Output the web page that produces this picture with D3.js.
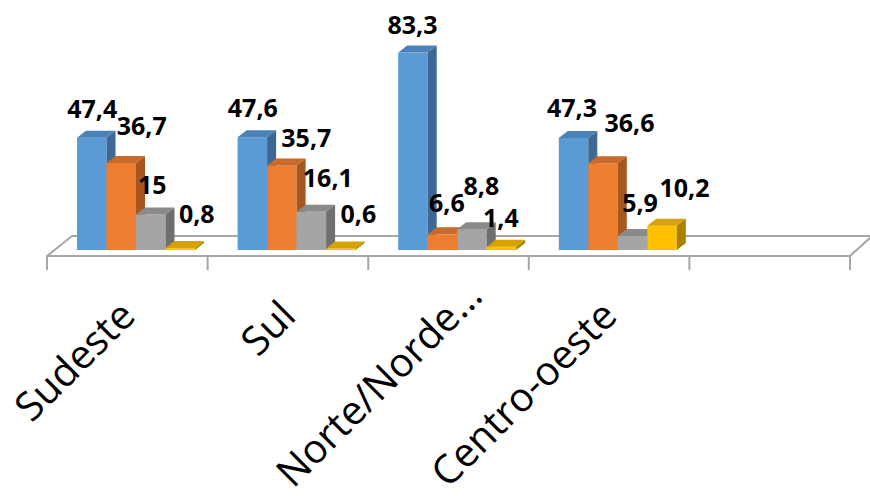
<!DOCTYPE html>
<html>
<head>
<meta charset="utf-8">
<script src="https://cdn.jsdelivr.net/npm/d3@7"></script>
<style>
html,body{margin:0;padding:0;background:#fff;}
svg{display:block;}
</style>
</head>
<body>
<svg id="chart" width="870" height="496"></svg>
<script>
// ---- data ----
const categories = ["Sudeste", "Sul", "Norte/Norde…", "Centro-oeste", ""];
const seriesNames = ["S1", "S2", "S3", "S4"];
const values = [
  [47.4, 36.7, 15, 0.8],
  [47.6, 35.7, 16.1, 0.6],
  [83.3, 6.6, 8.8, 1.4],
  [47.3, 36.6, 5.9, 10.2]
];
const valueLabels = [
  ["47,4", "36,7", "15", "0,8"],
  ["47,6", "35,7", "16,1", "0,6"],
  ["83,3", "6,6", "8,8", "1,4"],
  ["47,3", "36,6", "5,9", "10,2"]
];

// ---- layout / style ----
const faces = [
  {front:"#5B9BD5", top:"#4B82B9", side:"#3D6893"},
  {front:"#ED7D31", top:"#C9692A", side:"#A85620"},
  {front:"#A5A5A5", top:"#8A8A8A", side:"#6F6F6F"},
  {front:"#FFC000", top:"#D6A200", side:"#A98000"}
];
const depth = {dx: 9, dy: -7};
const floorDepth = {dx: 25, dy: -20};
const frontY = 256, barBase = 250;
// small label nudges [dx, dy] (Excel overlap avoidance)
const labelNudge = [
  [[-4,0],[16,-8],[-3,0],[12,-5]],
  [[-4,0],[20,2],[12,-5],[13,-6]],
  [[-5,1],[0,-2],[5,-14],[-5,0]],
  [[-6,-1],[22,-11],[3,-4],[18,-9]]
];
const catLabelNudge = [[0,0],[0,0],[26,-20],[0,0],[0,0]];

const svg = d3.select("#chart");

const x0 = d3.scaleBand().domain(d3.range(categories.length)).range([47, 850]).paddingInner(0).paddingOuter(0);
const x1 = d3.scaleBand().domain(d3.range(seriesNames.length)).range([30, 30 + 118]).padding(0);
const y = d3.scaleLinear().domain([0, 90]).range([barBase, barBase - 213.3]);

// floor
const fx0 = x0.range()[0], fx1 = x0.range()[1];
svg.append("polygon")
  .attr("points", [[fx0, frontY], [fx1, frontY], [fx1 + floorDepth.dx - 3, frontY + floorDepth.dy], [fx0 + floorDepth.dx, frontY + floorDepth.dy]].map(p => p.join(",")).join(" "))
  .attr("fill", "#fff").attr("stroke", "#A6A6A6").attr("stroke-width", 2).attr("stroke-linejoin", "round");

// ticks
const tickXs = d3.range(categories.length + 1).map(i => i < categories.length ? x0(i) : fx1);
svg.append("g").selectAll("line").data(tickXs).join("line")
  .attr("x1", d => d).attr("x2", d => d)
  .attr("y1", frontY).attr("y2", frontY + 14)
  .attr("stroke", "#A6A6A6").attr("stroke-width", 2);

// bars
const bars = svg.append("g");
values.forEach((row, ci) => {
  row.forEach((v, si) => {
    const xl = x0(ci) + x1(si);
    const w = x1.bandwidth();
    const yt = y(v), yb = y(0);
    const f = faces[si];
    const g = bars.append("g");
    // front
    g.append("rect").attr("x", xl).attr("y", yt).attr("width", w).attr("height", yb - yt).attr("fill", f.front);
    // top
    g.append("polygon")
      .attr("points", [[xl, yt], [xl + w, yt], [xl + w + depth.dx, yt + depth.dy], [xl + depth.dx, yt + depth.dy]].map(p => p.join(",")).join(" "))
      .attr("fill", f.top);
    // side
    g.append("polygon")
      .attr("points", [[xl + w, yt], [xl + w + depth.dx, yt + depth.dy], [xl + w + depth.dx, yb + depth.dy], [xl + w, yb]].map(p => p.join(",")).join(" "))
      .attr("fill", f.side);
  });
});

// value labels
const lab = svg.append("g").attr("font-family", "'Open Sans', sans-serif").attr("font-weight", "bold").attr("font-size", 25).attr("fill", "#000");
values.forEach((row, ci) => {
  row.forEach((v, si) => {
    const cx = x0(ci) + x1(si) + x1.bandwidth() / 2 + depth.dx / 2;
    const n = labelNudge[ci][si];
    lab.append("text")
      .attr("x", cx + n[0])
      .attr("y", y(v) - 20 + n[1])
      .attr("text-anchor", "middle")
      .text(valueLabels[ci][si]);
  });
});

// category labels
const cl = svg.append("g").attr("font-family", "'Open Sans', sans-serif").attr("font-size", 40).attr("fill", "#000");
categories.forEach((c, ci) => {
  if (!c) return;
  const ax = x0(ci) + x0.bandwidth() / 2 + 10 + catLabelNudge[ci][0];
  const ay = 318 + catLabelNudge[ci][1];
  cl.append("text")
    .attr("transform", `translate(${ax},${ay}) rotate(-45)`)
    .attr("text-anchor", "end")
    .text(c);
});
</script>
</body>
</html>
